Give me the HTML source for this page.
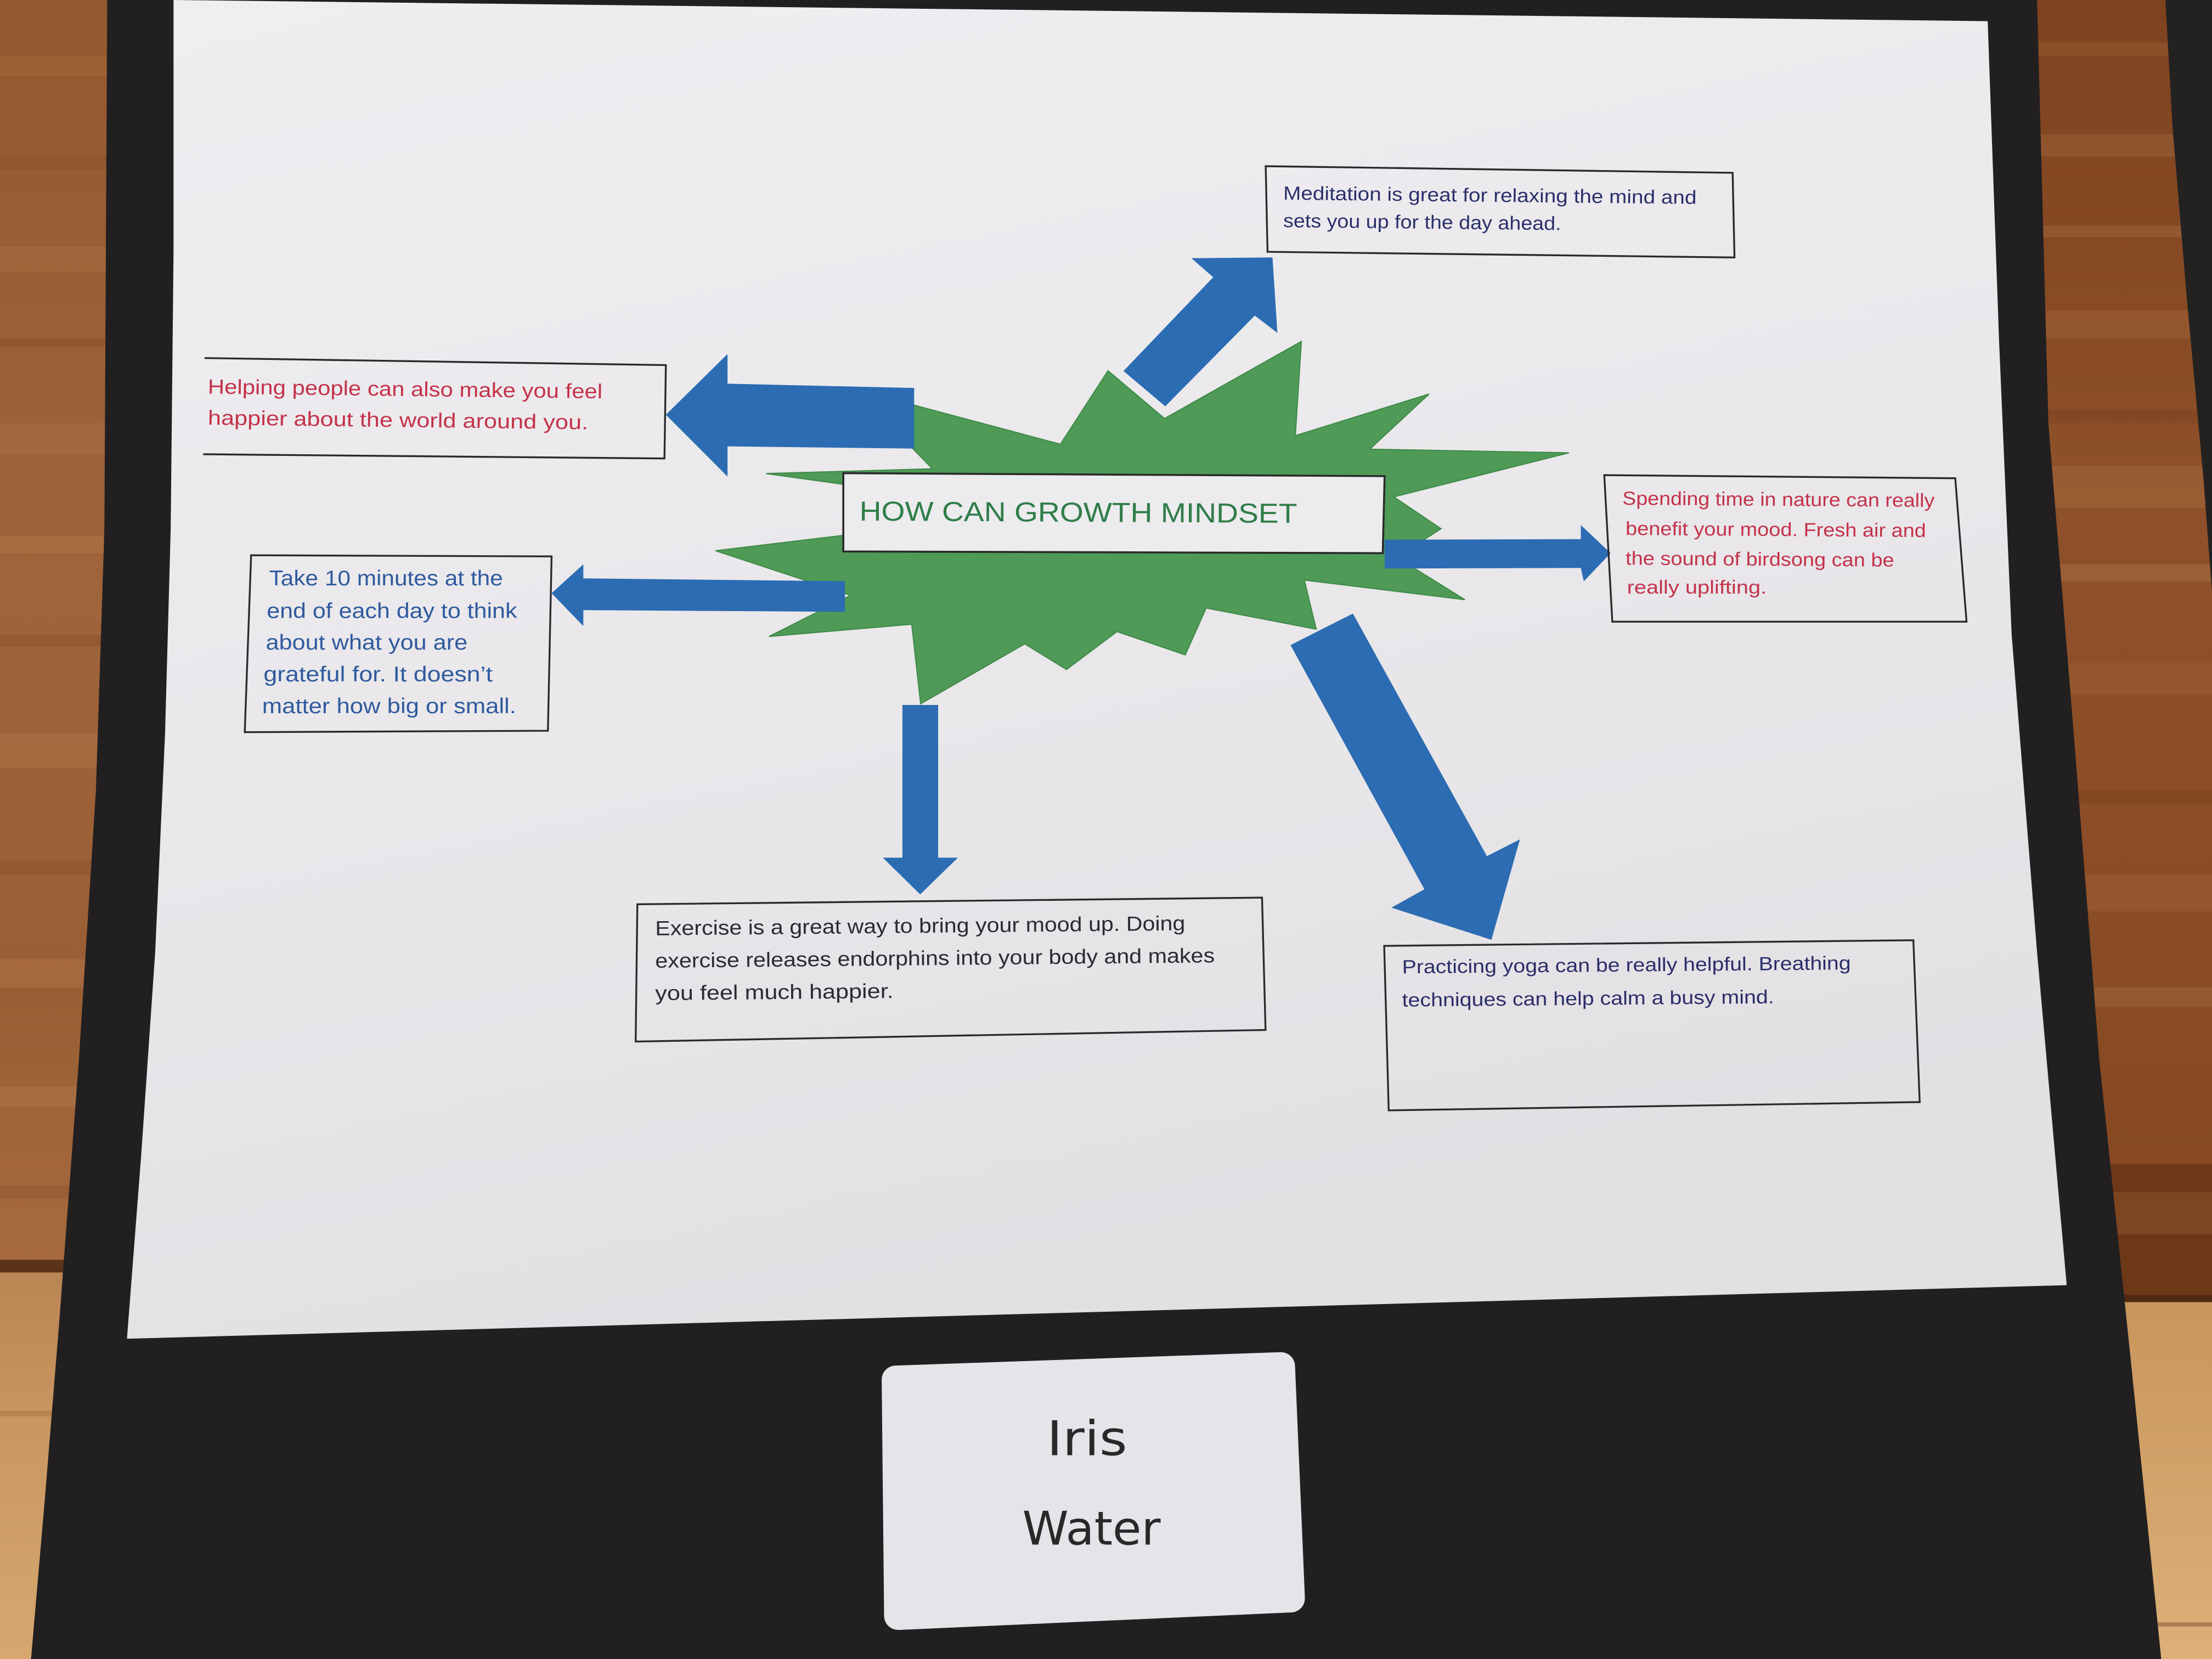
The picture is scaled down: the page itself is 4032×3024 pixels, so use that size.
<!DOCTYPE html>
<html>
<head>
<meta charset="utf-8">
<style>
html,body{margin:0;padding:0;background:#8f5430;overflow:hidden;}
svg{display:block;}
text{font-family:"Liberation Sans",sans-serif;}
</style>
</head>
<body>
<svg xmlns="http://www.w3.org/2000/svg" width="4032" height="3024" viewBox="0 0 1568 1176" preserveAspectRatio="none">
  <defs>
    <linearGradient id="woodL" x1="0" y1="0" x2="0" y2="1">
      <stop offset="0" stop-color="#94592f"/>
      <stop offset="0.35" stop-color="#a0643a"/>
      <stop offset="0.6" stop-color="#9a5e34"/>
      <stop offset="0.76" stop-color="#a66b3e"/>
      <stop offset="1" stop-color="#a86e40"/>
    </linearGradient>
    <linearGradient id="woodR" x1="0" y1="0" x2="0" y2="1">
      <stop offset="0" stop-color="#7e421f"/>
      <stop offset="0.3" stop-color="#8e5129"/>
      <stop offset="0.6" stop-color="#8a4c25"/>
      <stop offset="1" stop-color="#7a401d"/>
    </linearGradient>
    <linearGradient id="tanL" x1="0" y1="0" x2="0" y2="1">
      <stop offset="0" stop-color="#b98553"/>
      <stop offset="0.4" stop-color="#c99660"/>
      <stop offset="1" stop-color="#d6a870"/>
    </linearGradient>
    <linearGradient id="tanR" x1="0" y1="0" x2="0" y2="1">
      <stop offset="0" stop-color="#c8965c"/>
      <stop offset="1" stop-color="#dcb078"/>
    </linearGradient>
    <linearGradient id="paperG" x1="0" y1="0" x2="0.3" y2="1">
      <stop offset="0" stop-color="#efeef1"/>
      <stop offset="0.6" stop-color="#e9e7ea"/>
      <stop offset="1" stop-color="#e2e0e3"/>
    </linearGradient>
  </defs>

  <!-- LEFT WOOD -->
  <rect x="0" y="0" width="130" height="1176" fill="url(#woodL)"/>
  <rect x="0" y="40" width="90" height="14" fill="#b07446" opacity="0.3"/>
  <rect x="0" y="110" width="90" height="10" fill="#7c4524" opacity="0.25"/>
  <rect x="0" y="175" width="90" height="18" fill="#b27748" opacity="0.3"/>
  <rect x="0" y="240" width="90" height="6" fill="#6e3d1f" opacity="0.25"/>
  <rect x="0" y="300" width="90" height="22" fill="#b47a4c" opacity="0.3"/>
  <rect x="0" y="380" width="90" height="12" fill="#c08a58" opacity="0.25"/>
  <rect x="0" y="450" width="90" height="8" fill="#734020" opacity="0.25"/>
  <rect x="0" y="520" width="90" height="24" fill="#b77d4e" opacity="0.3"/>
  <rect x="0" y="610" width="90" height="10" fill="#7a4422" opacity="0.25"/>
  <rect x="0" y="680" width="90" height="20" fill="#bf8656" opacity="0.3"/>
  <rect x="0" y="770" width="90" height="14" fill="#c08a5a" opacity="0.25"/>
  <rect x="0" y="840" width="90" height="10" fill="#7a4422" opacity="0.25"/>
  <rect x="0" y="900" width="90" height="276" fill="url(#tanL)"/>
  <rect x="0" y="893" width="90" height="9" fill="#5c321a"/>
  <rect x="0" y="1000" width="90" height="4" fill="#9a6a3c" opacity="0.4"/>

  <!-- RIGHT WOOD -->
  <rect x="1420" y="0" width="148" height="1176" fill="url(#woodR)"/>
  <rect x="1420" y="30" width="148" height="10" fill="#a86d40" opacity="0.3"/>
  <rect x="1420" y="95" width="148" height="16" fill="#b07648" opacity="0.3"/>
  <rect x="1420" y="160" width="148" height="8" fill="#c08656" opacity="0.25"/>
  <rect x="1420" y="220" width="148" height="20" fill="#ad7243" opacity="0.3"/>
  <rect x="1420" y="290" width="148" height="10" fill="#6a3518" opacity="0.25"/>
  <rect x="1420" y="330" width="148" height="30" fill="#b47a4a" opacity="0.3"/>
  <rect x="1420" y="400" width="148" height="12" fill="#c48a58" opacity="0.25"/>
  <rect x="1420" y="470" width="148" height="22" fill="#a56a3c" opacity="0.3"/>
  <rect x="1420" y="560" width="148" height="10" fill="#6d3719" opacity="0.25"/>
  <rect x="1420" y="620" width="148" height="26" fill="#a86d40" opacity="0.3"/>
  <rect x="1420" y="700" width="148" height="14" fill="#b57b4b" opacity="0.25"/>
  <rect x="1420" y="825" width="148" height="97" fill="#6d3818"/>
  <rect x="1420" y="845" width="148" height="30" fill="#8a4e28" opacity="0.6"/>
  <rect x="1420" y="922" width="148" height="254" fill="url(#tanR)"/>
  <rect x="1420" y="918" width="148" height="5" fill="#4e2812"/>
  <rect x="1420" y="1150" width="148" height="3" fill="#8a6038" opacity="0.6"/>

  <!-- TOP-RIGHT DARK SHEET -->
  <polygon points="1535,0 1568,0 1568,420 1562,340 1550,210 1540,90" fill="#242221"/>

  <!-- BLACK BOARD -->
  <polygon points="76,0 1444,0 1452,300 1470,520 1488,750 1510,960 1532,1176 22,1176 32,1060 42,937 56,750 68,560 74,375" fill="#211f20"/>

  <!-- PAPER -->
  <polygon points="123,0 1409,15 1417,240 1426,450 1444,675 1465,911 90,949 100,820 110,675 117,520 121,375 123,180" fill="url(#paperG)"/>

  <!-- STARBURST -->
  <polygon fill="#4e9a56" stroke="#3f8a48" stroke-width="0.8" points="606,276 751.7,314.9 785.4,262.8 825.5,296.7 922.5,242 918.2,308.8 1013,279.3 971,318.4 1112.2,321 988,352.2 1021.5,374.8 990,395 1038.4,425.1 924.6,411.2 933,446 855,431 840.2,464.2 791.8,447.7 756,474.6 726.4,456.4 652.6,498.9 646.3,442.5 545.1,451.2 603,422 507.2,390.4 610,378 610,345 543,335.7 661,332.3"/>

  <!-- CENTER BOX -->
  <polygon points="597.8,335.4 981.5,337.5 980.2,392.1 597.8,390.9" fill="#ecebee" stroke="#2a2a2a" stroke-width="1.4"/>
  <text x="609.2" y="369" font-size="19.5" fill="#2f7d48" textLength="310.3" lengthAdjust="spacingAndGlyphs" transform="rotate(0.3 609.2 369)">HOW CAN GROWTH MINDSET</text>

  <!-- ARROWS -->
  <g fill="#2c6cb2">
    <polygon points="796.4,263 860,196.5 844.5,183 902,182.5 905.5,236 889.5,223.7 826,288"/>
    <polygon points="472,294 515.7,251 515.7,272 648,275 648,318 515.7,316.4 515.7,337.8"/>
    <polygon points="391,420.5 413.5,400 413.5,410 599,412 599,433.7 413.5,432.5 413.5,443.8"/>
    <polygon points="981.5,382.6 1120.6,382.2 1120.6,372.2 1141.7,392.1 1122.7,412.1 1120.6,402.6 981.5,403"/>
    <polygon points="639.7,499.7 665,499.7 665,608 679,608 652.3,634 625.8,608 639.7,608"/>
    <polygon points="914.8,457.3 959,434.9 1054,606.9 1077.4,595 1057.2,666.2 986.3,643.4 1009.7,630.4"/>
  </g>

  <!-- MEDITATION BOX -->
  <polygon points="897.2,117.8 1228.2,122.5 1229.5,182.5 898.5,178.5" fill="none" stroke="#2a2a2a" stroke-width="1.3"/>
  <g fill="#2b2f6b" font-size="13.5">
    <text x="909.6" y="141.5" textLength="293" lengthAdjust="spacingAndGlyphs" transform="rotate(0.6 909.6 141.5)">Meditation is great for relaxing the mind and</text>
    <text x="909.6" y="161" textLength="197" lengthAdjust="spacingAndGlyphs" transform="rotate(0.6 909.6 161)">sets you up for the day ahead.</text>
  </g>

  <!-- HELPING BOX -->
  <polyline points="145,253.8 472,258.8 471,325 144,322" fill="none" stroke="#2a2a2a" stroke-width="1.3"/>
  <g fill="#c4324a" font-size="14.5">
    <text x="147.3" y="279" textLength="279.7" lengthAdjust="spacingAndGlyphs" transform="rotate(0.7 147.3 279)">Helping people can also make you feel</text>
    <text x="147.3" y="301" textLength="269.6" lengthAdjust="spacingAndGlyphs" transform="rotate(0.7 147.3 301)">happier about the world around you.</text>
  </g>

  <!-- TAKE 10 BOX -->
  <polygon points="178,393.6 391,394.4 388.4,518 173.5,519" fill="none" stroke="#2a2a2a" stroke-width="1.3"/>
  <g fill="#2f5a9e" font-size="15">
    <text x="190.8" y="415" textLength="165.7" lengthAdjust="spacingAndGlyphs">Take 10 minutes at the</text>
    <text x="189.1" y="438" textLength="177.4" lengthAdjust="spacingAndGlyphs">end of each day to think</text>
    <text x="188.4" y="460.5" textLength="143" lengthAdjust="spacingAndGlyphs">about what you are</text>
    <text x="186.8" y="483" textLength="162.4" lengthAdjust="spacingAndGlyphs">grateful for. It doesn’t</text>
    <text x="185.8" y="505.5" textLength="180.1" lengthAdjust="spacingAndGlyphs">matter how big or small.</text>
  </g>

  <!-- SPENDING BOX -->
  <polygon points="1137.2,336.8 1386,339 1394,440.7 1142.9,440.7" fill="none" stroke="#2a2a2a" stroke-width="1.3"/>
  <g fill="#c4324a" font-size="13.5">
    <text x="1150" y="357.8" textLength="221.3" lengthAdjust="spacingAndGlyphs" transform="rotate(0.4 1150 357.8)">Spending time in nature can really</text>
    <text x="1152.3" y="379.2" textLength="213" lengthAdjust="spacingAndGlyphs" transform="rotate(0.4 1152.3 379.2)">benefit your mood. Fresh air and</text>
    <text x="1152.3" y="400.3" textLength="190.4" lengthAdjust="spacingAndGlyphs" transform="rotate(0.4 1152.3 400.3)">the sound of birdsong can be</text>
    <text x="1153.3" y="420.7" textLength="99" lengthAdjust="spacingAndGlyphs">really uplifting.</text>
  </g>

  <!-- EXERCISE BOX -->
  <polygon points="451.8,641 894.6,636.3 897.1,730.1 450.6,738.3" fill="none" stroke="#2a2a2a" stroke-width="1.3"/>
  <g fill="#2a2a30" font-size="14.5">
    <text x="464.5" y="663" textLength="375.7" lengthAdjust="spacingAndGlyphs" transform="rotate(-0.55 464.5 663)">Exercise is a great way to bring your mood up. Doing</text>
    <text x="464.5" y="686" textLength="396.6" lengthAdjust="spacingAndGlyphs" transform="rotate(-0.55 464.5 686)">exercise releases endorphins into your body and makes</text>
    <text x="464.5" y="709" textLength="168.9" lengthAdjust="spacingAndGlyphs" transform="rotate(-0.55 464.5 709)">you feel much happier.</text>
  </g>

  <!-- YOGA BOX -->
  <polygon points="981.2,670.5 1356.3,666.5 1360.8,781.2 984.4,787.1" fill="none" stroke="#2a2a2a" stroke-width="1.3"/>
  <g fill="#2b2d6a" font-size="13.5">
    <text x="993.9" y="690" textLength="318.1" lengthAdjust="spacingAndGlyphs" transform="rotate(-0.5 993.9 690)">Practicing yoga can be really helpful. Breathing</text>
    <text x="993.9" y="713.5" textLength="263.7" lengthAdjust="spacingAndGlyphs" transform="rotate(-0.5 993.9 713.5)">techniques can help calm a busy mind.</text>
  </g>

  <!-- NAME CARD -->
  <polygon points="635,978 908,968.5 915,1133 636.7,1145.4" fill="#e6e3e9" stroke="#e6e3e9" stroke-width="20" stroke-linejoin="round"/>
  <g fill="#2a2828">
    <text x="742" y="1031.6" font-size="34" textLength="57" lengthAdjust="spacingAndGlyphs" style="font-family:'DejaVu Sans','Liberation Sans',sans-serif">Iris</text>
    <text x="724.7" y="1095" font-size="33" textLength="98" lengthAdjust="spacingAndGlyphs" style="font-family:'DejaVu Sans','Liberation Sans',sans-serif">Water</text>
  </g>
</svg>
</body>
</html>
